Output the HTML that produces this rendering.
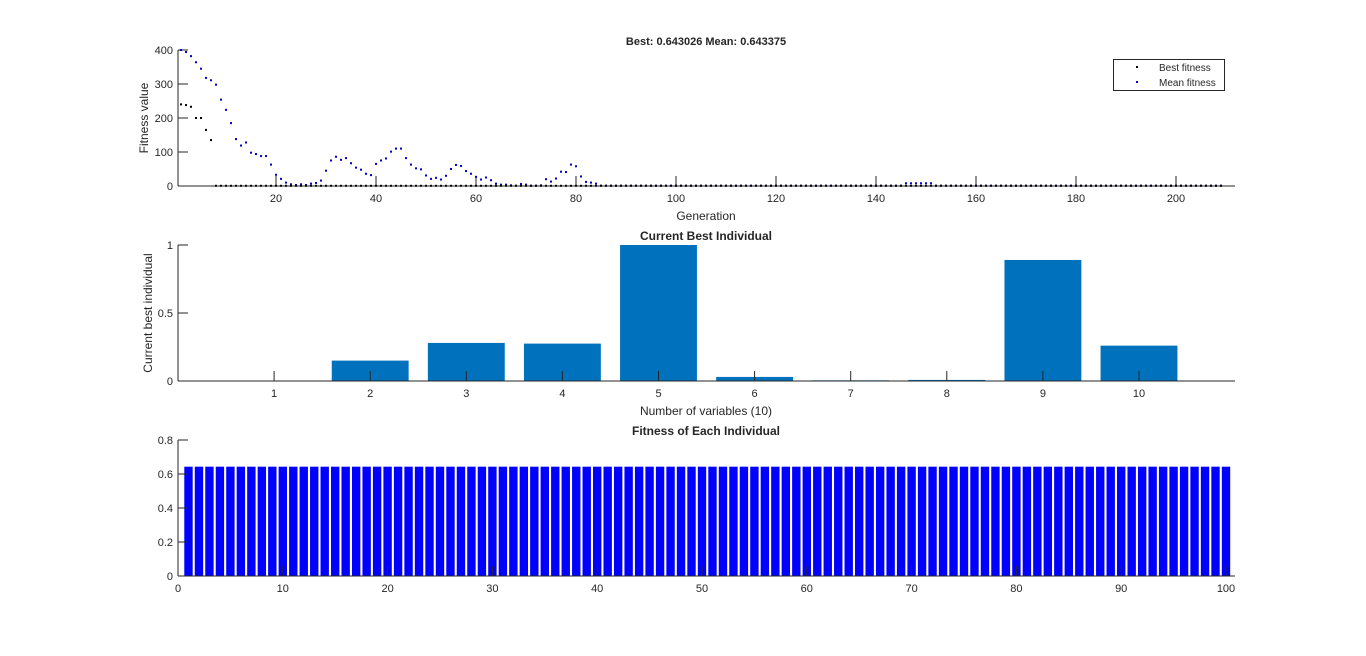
<!DOCTYPE html>
<html><head><meta charset="utf-8"><style>
body{margin:0;background:#fff;}
svg text{font-family:"Liberation Sans",sans-serif;fill:#262626;}
</style></head><body>
<svg id="s" width="1366" height="651" xmlns="http://www.w3.org/2000/svg"></svg>
<script>
const meanTop=[400,394,382,364,345,318,311,298,254,224,185,138,119,128,98,94,88,88,63,33,21,10,5,3,5,3,7,9,16,45,75,86,77,82,67,54,48,36,32,65,75,81,101,110,110,82,63,52,49,31,21,24,19,30,50,62,59,44,36,27,19,25,17,7,4,4,2,1,6,4,1,1,2,20,13,22,42,41,63,58,28,12,10,7];
const bestTop=[240,238,233,200,200,165,135];
const nGen=209;
const barCats=[1,2,3,4,5,6,7,8,9,10];
const barVals=[0,0.15,0.28,0.275,1,0.03,0.005,0.008,0.89,0.26];
const indivVals=new Array(100).fill(0.643);
const topXTicks=[20,40,60,80,100,120,140,160,180,200];
const topYTicks=[0,100,200,300,400];
const midYTicks=[0,0.5,1];
const botYTicks=[0,0.2,0.4,0.6,0.8];
const botXTicks=[0,10,20,30,40,50,60,70,80,90,100];

const S=document.getElementById('s');const NS='http://www.w3.org/2000/svg';
function el(t,a,txt){const e=document.createElementNS(NS,t);for(const k in a)e.setAttribute(k,a[k]);if(txt!==undefined)e.textContent=txt;S.appendChild(e);return e;}
const L=178,R=1235;
function axes(name,yb,yt,xf,xt,yf,yt2,fmt){
 let g=el('line',{x1:L,y1:yb,x2:R,y2:yb,stroke:'#262626'});
 
 g=el('line',{x1:L,y1:yb,x2:L,y2:yt,stroke:'#262626'});
 
 xt.forEach(v=>{const x=xf(v);el('line',{x1:x,y1:yb,x2:x,y2:yb-10,stroke:'#262626'});
  const t=el('text',{x:x,y:yb+16,'font-size':11,'text-anchor':'middle'},String(v));
  });
 yt2.forEach(v=>{const y=yf(v);el('line',{x1:L,y1:y,x2:L+10,y2:y,stroke:'#262626'});
  const t=el('text',{x:L-5,y:y+4,'font-size':11,'text-anchor':'end'},fmt(v));
  });
}
// top
const tx=g=>176+5*g, ty=v=>186-v*0.34;
axes('fitness',186,50,tx,topXTicks,ty,topYTicks,v=>String(v));
for(let g=1;g<=nGen;g++){
 const m=g<=meanTop.length?meanTop[g-1]:(g>=146&&g<=151?8:1);
 let r=el('rect',{x:tx(g)-1,y:ty(m)-1,width:2,height:2,fill:'#0000c8'});
 
 const b=g<=bestTop.length?bestTop[g-1]:0.64;
 r=el('rect',{x:tx(g)-1,y:ty(b)-1,width:2,height:2,fill:'#000'});
 
}
let t=el('text',{x:706,y:45,'font-size':11,'font-weight':'bold','text-anchor':'middle',fill:'#000'},'Best: 0.643026 Mean: 0.643375');

t=el('text',{x:706,y:220,'font-size':12,'text-anchor':'middle'},'Generation');

t=el('text',{x:148,y:118,'font-size':12,'text-anchor':'middle',transform:'rotate(-90 148 118)'},'Fitness value');

let lg=el('rect',{x:1113.5,y:59.5,width:111,height:31,fill:'#fff',stroke:'#262626'});

el('rect',{x:1136,y:66,width:2,height:2,fill:'#000'});
el('rect',{x:1136,y:81,width:2,height:2,fill:'#0000c8'});
t=el('text',{x:1159,y:71,'font-size':10},'Best fitness');
t=el('text',{x:1159,y:86,'font-size':10},'Mean fitness');
// middle
const mx=c=>178+c*96.1, my=v=>381-v*136;
barCats.forEach((c,i)=>{const r=el('rect',{x:mx(c-0.4),y:my(barVals[i]),width:96.1*0.8,height:381-my(barVals[i]),fill:'#0072bd'});
 });
axes('individual',381,245,mx,barCats,my,midYTicks,v=>String(v));
t=el('text',{x:706,y:240,'font-size':12,'font-weight':'bold','text-anchor':'middle',fill:'#000'},'Current Best Individual');

t=el('text',{x:706,y:415,'font-size':12,'text-anchor':'middle'},'Number of variables (10)');

t=el('text',{x:152,y:313,'font-size':12,'text-anchor':'middle',transform:'rotate(-90 152 313)'},'Current best individual');

// bottom
const bx=i=>178+i*10.48, by=v=>576-v*170;
indivVals.forEach((v,i)=>{const r=el('rect',{x:bx(i+1-0.4),y:by(v),width:10.48*0.8,height:576-by(v),fill:'#0000ff'});
 });
axes('population',576,440,bx,botXTicks,by,botYTicks,v=>String(v));
t=el('text',{x:706,y:435,'font-size':12,'font-weight':'bold','text-anchor':'middle',fill:'#000'},'Fitness of Each Individual');

</script>
</body></html>
